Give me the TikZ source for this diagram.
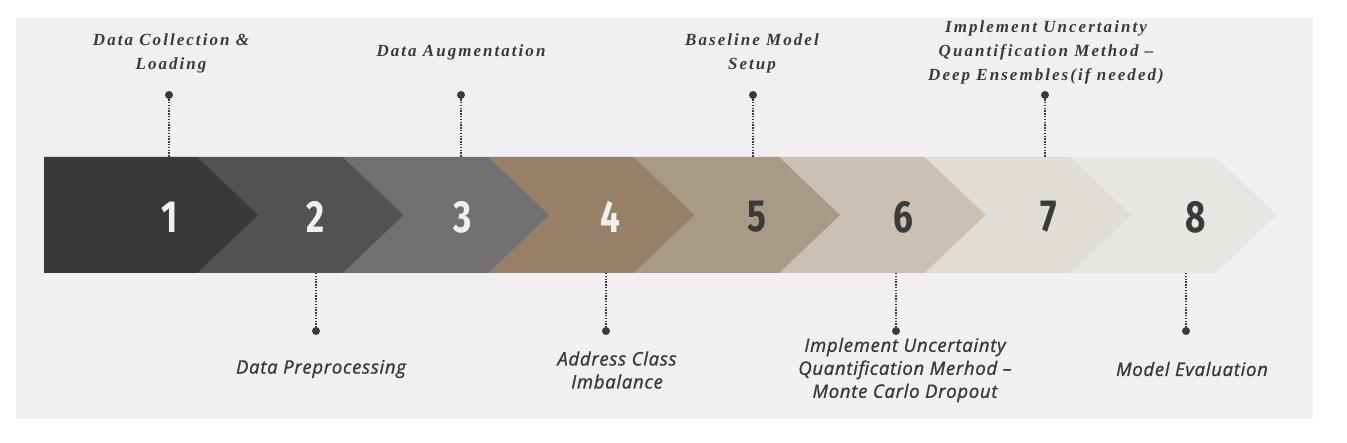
\documentclass[tikz,border=0pt]{standalone}
\usepackage{fontspec}
\setmainfont{Liberation Serif}
\newfontfamily\topfont[LetterSpace=12]{Liberation Serif}
\newfontfamily\botfont[LetterSpace=4,FakeBold=1.2]{Open Sans}
\newfontfamily\numfont[FakeStretch=0.78]{Fira Sans}
\usepackage{tikz}
\usetikzlibrary{positioning}
\definecolor{canvas}{HTML}{F0F0F0}
\definecolor{ink}{HTML}{3A3A3A}
\definecolor{numlight}{HTML}{F2F0EC}
\definecolor{stepa}{HTML}{3A3937}
\definecolor{stepb}{HTML}{525252}
\definecolor{stepc}{HTML}{717171}
\definecolor{stepd}{HTML}{978068}
\definecolor{stepe}{HTML}{A99A86}
\definecolor{stepf}{HTML}{CBC1B2}
\definecolor{stepg}{HTML}{E0DDD6}
\definecolor{steph}{HTML}{E8E6E2}

\begin{document}
\begin{tikzpicture}[
 x=1pt,y=-1pt,
 num/.style={font=\numfont\bfseries\fontsize{45}{45}\selectfont,inner sep=0pt},
 toplabel/.style={font=\topfont\bfseries\itshape\fontsize{17}{24}\selectfont,text=ink,align=center,inner sep=0pt},
 botlabel/.style={font=\botfont\itshape\fontsize{18.5}{23}\selectfont,text=ink,align=center,inner sep=0pt},
 pin/.style={circle,fill=ink,inner sep=0pt,minimum size=8pt},
 leader/.style={ink,line width=1.4pt,dash pattern=on 1.4pt off 1.4pt},
]
\fill[white] (0,0) rectangle (1347,443);
\fill[canvas] (16,18) rectangle (1313,419);

% chevrons, last one first so each covers the next
\foreach \i/\col in {8/steph,7/stepg,6/stepf,5/stepe,4/stepd,3/stepc,2/stepb,1/stepa} {
 \pgfmathsetmacro\tip{258+145.5*(\i-1)}
 \pgfmathsetmacro\back{\i==1 ? 44 : \tip-206.5}
 \fill[\col] (\back,157) -- (\tip-61,157) -- (\tip,215) -- (\tip-61,273) -- (\back,273) -- cycle;
}

\node[num,text=numlight] (n1) at (170,217) {1};
\node[num,text=numlight] (n2) at (316,217) {2};
\node[num,text=numlight] (n3) at (463,217) {3};
\node[num,text=numlight] (n4) at (610,217) {4};
\node[num,text=ink] (n5) at (757,217) {5};
\node[num,text=ink] (n6) at (903,217) {6};
\node[num,text=ink] (n7) at (1049,217) {7};
\node[num,text=ink] (n8) at (1196,217) {8};

% steps above the band
\node[pin] (d1) at (169,95) {};
\coordinate (e1) at (169,157);
\draw[leader] (d1) -- (e1);
\node[toplabel] (l1) at (171,53) {Data Collection \&\\Loading};

\node[pin] (d3) at (461,95) {};
\coordinate (e3) at (461,157);
\draw[leader] (d3) -- (e3);
\node[toplabel] (l3) at (461,52) {Data Augmentation};

\node[pin] (d5) at (753,95) {};
\coordinate (e5) at (753,157);
\draw[leader] (d5) -- (e5);
\node[toplabel] (l5) at (752,53) {Baseline Model\\Setup};

\node[pin] (d7) at (1045,95) {};
\coordinate (e7) at (1045,157);
\draw[leader] (d7) -- (e7);
\node[toplabel] (l7) at (1046,52) {Implement Uncertainty\\Quantification Method –\\Deep Ensembles(if needed)};

% steps below the band
\node[pin] (d2) at (316,331) {};
\coordinate (e2) at (316,273);
\draw[leader] (e2) -- (d2);
\node[botlabel] (l2) at (321,369) {Data Preprocessing};

\node[pin] (d4) at (606,331) {};
\coordinate (e4) at (606,273);
\draw[leader] (e4) -- (d4);
\node[botlabel] (l4) at (617,370) {Address Class\\Imbalance};

\node[pin] (d6) at (896,331) {};
\coordinate (e6) at (896,273);
\draw[leader] (e6) -- (d6);
\node[botlabel] (l6) at (905,370) {Implement Uncertainty\\Quantification Merhod –\\Monte Carlo Dropout};

\node[pin] (d8) at (1186,331) {};
\coordinate (e8) at (1186,273);
\draw[leader] (e8) -- (d8);
\node[botlabel] (l8) at (1192,369) {Model Evaluation};
\end{tikzpicture}
\end{document}
